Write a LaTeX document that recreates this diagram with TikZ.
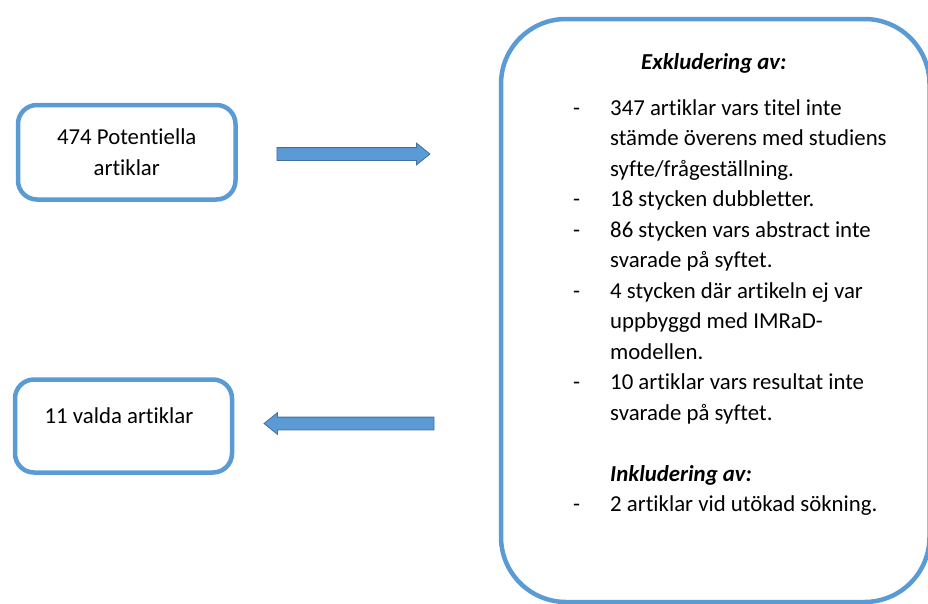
\documentclass[tikz,border=0pt]{standalone}
\usepackage{fontspec}
\setmainfont[Ligatures=NoCommon]{Carlito}
\usetikzlibrary{shapes.arrows}
\definecolor{rutbla}{HTML}{5B9BD5}
\definecolor{pilkant}{HTML}{41719C}
\tikzset{
  ruta/.style={draw=rutbla, line width=4.5pt, rounded corners=19pt, inner sep=0pt},
  blockpil/.style={single arrow, fill=rutbla, draw=pilkant, line width=0.8pt,
    inner xsep=0pt, inner ysep=6pt, minimum width=21pt, single arrow head extend=4.5pt,
    single arrow tip angle=78},
  rad/.style={anchor=base west, inner sep=0pt},
  streck/.style={anchor=base west, inner sep=0pt}
}
\begin{document}
\begin{tikzpicture}[x=1pt, y=-1pt, font=\fontsize{22.8}{30.5}\selectfont]
    \useasboundingbox (0,0) rectangle (928,603);

    % Boxes on the left
    \node[ruta, minimum width=217.5pt, minimum height=94.5pt, align=center] (potentiella) at (126.75,152.25) {474 Potentiella\\artiklar};
    \node[ruta, minimum width=217pt, minimum height=93pt] (valdaruta) at (123.5,426) {};
    \node[anchor=base, inner sep=0pt] (valda) at (119,423) {11 valda artiklar};

    % Large box on the right
    \node[ruta, rounded corners=65pt, minimum width=428.5pt, minimum height=583pt] (urval) at (715.25,310.5) {};

    % Block arrows
    \node[blockpil, minimum height=153pt] (pilut) at (349.5,154) {};
    \node[blockpil, minimum height=170pt, shape border rotate=180] (pilin) at (353,423.5) {};

    % Exclusions
    \node[rad, font=\fontsize{22.8}{30.5}\selectfont\bfseries\itshape] (exkl) at (641,69) {Exkludering av:};
    \node[streck] (d1) at (573,115) {-};
    \node[rad] (r1) at (610,115) {347 artiklar vars titel inte};
    \node[rad] (r2) at (610,145.5) {stämde överens med studiens};
    \node[rad] (r3) at (610,176) {syfte/frågeställning.};
    \node[streck] (d2) at (573,206.5) {-};
    \node[rad] (r4) at (610,206.5) {18 stycken dubbletter.};
    \node[streck] (d3) at (573,237) {-};
    \node[rad] (r5) at (610,237) {86 stycken vars abstract inte};
    \node[rad] (r6) at (610,267.5) {svarade på syftet.};
    \node[streck] (d4) at (573,298) {-};
    \node[rad] (r7) at (610,298) {4 stycken där artikeln ej var};
    \node[rad] (r8) at (610,328.5) {uppbyggd med IMRaD-};
    \node[rad] (r9) at (610,359) {modellen.};
    \node[streck] (d5) at (573,389.5) {-};
    \node[rad] (r10) at (610,389.5) {10 artiklar vars resultat inte};
    \node[rad] (r11) at (610,420) {svarade på syftet.};

    % Inclusions
    \node[rad, font=\fontsize{22.8}{30.5}\selectfont\bfseries\itshape] (inkl) at (610,481) {Inkludering av:};
    \node[streck] (d6) at (573,511.5) {-};
    \node[rad] (r12) at (610,511.5) {2 artiklar vid utökad sökning.};
\end{tikzpicture}
\end{document}
